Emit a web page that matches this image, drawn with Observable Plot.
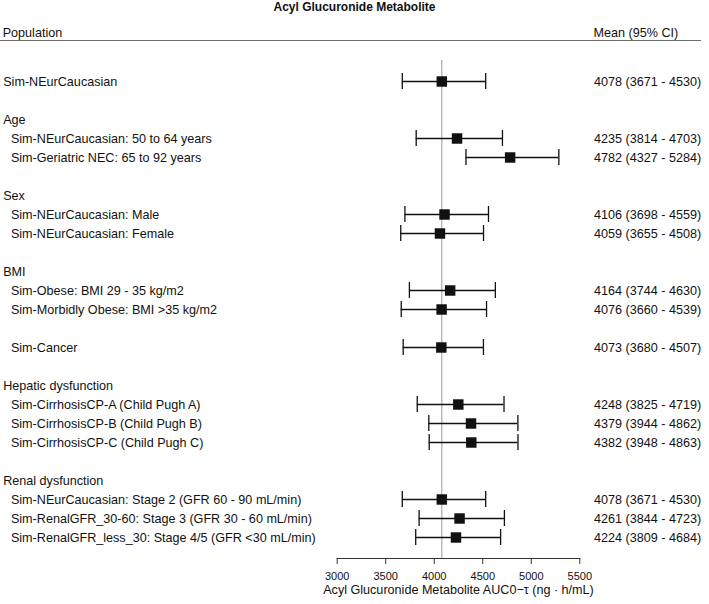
<!DOCTYPE html>
<html>
<head>
<meta charset="utf-8">
<script src="https://cdn.jsdelivr.net/npm/d3@7"></script>
<script src="https://cdn.jsdelivr.net/npm/@observablehq/plot@0.6"></script>
<style>
  body { margin: 0; background: #fff; font-family: "Liberation Sans", Arial, sans-serif; color: #111; }
  #wrap { width: 709px; }
  #head { position: relative; width: 709px; height: 44px; }
  #title { position: absolute; left: 0; top: 0; width: 709px; text-align: center; font-weight: bold; font-size: 12px; line-height: 14px; }
  .col { position: absolute; top: 25.5px; font-size: 12.6px; line-height: 15px; white-space: nowrap; }
  #sep { position: absolute; left: 0; top: 40px; width: 701px; height: 1.2px; background: #6e6e6e; }
  svg { display: block; }
</style>
</head>
<body>
<div id="wrap">
  <div id="head">
    <div id="title"></div>
    <div class="col" id="colLeft" style="left:2.7px"></div>
    <div class="col" id="colRight" style="left:593.5px"></div>
    <div id="sep"></div>
  </div>
  <div id="chart"></div>
</div>
<script>
const chartTitle = "Acyl Glucuronide Metabolite";
const columnHeaders = ["Population", "Mean (95% CI)"];
const sectionTitles = ["", "Age", "Sex", "BMI", "", "Hepatic dysfunction", "Renal dysfunction"];
const populations = [
  "Sim-NEurCaucasian",
  "Sim-NEurCaucasian: 50 to 64 years",
  "Sim-Geriatric NEC: 65 to 92 years",
  "Sim-NEurCaucasian: Male",
  "Sim-NEurCaucasian: Female",
  "Sim-Obese: BMI 29 - 35 kg/m2",
  "Sim-Morbidly Obese: BMI >35 kg/m2",
  "Sim-Cancer",
  "Sim-CirrhosisCP-A (Child Pugh A)",
  "Sim-CirrhosisCP-B (Child Pugh B)",
  "Sim-CirrhosisCP-C (Child Pugh C)",
  "Sim-NEurCaucasian: Stage 2 (GFR 60 - 90 mL/min)",
  "Sim-RenalGFR_30-60: Stage 3 (GFR 30 - 60 mL/min)",
  "Sim-RenalGFR_less_30: Stage 4/5 (GFR <30 mL/min)"
];
const populationSection = [0, 1, 1, 2, 2, 3, 3, 4, 5, 5, 5, 6, 6, 6];
const means = [4078, 4235, 4782, 4106, 4059, 4164, 4076, 4073, 4248, 4379, 4382, 4078, 4261, 4224];
const lower = [3671, 3814, 4327, 3698, 3655, 3744, 3660, 3680, 3825, 3944, 3948, 3671, 3844, 3809];
const upper = [4530, 4703, 5284, 4559, 4508, 4630, 4539, 4507, 4719, 4862, 4863, 4530, 4723, 4684];
const referenceMean = means[0];
const xTicks = [3000, 3500, 4000, 4500, 5000, 5500];
const axisTitleParts = ["Acyl Glucuronide Metabolite AUC", "0\u2212\u03c4", " (ng \u00b7 h/mL)"];

document.getElementById("title").textContent = chartTitle;
document.getElementById("colLeft").textContent = columnHeaders[0];
document.getElementById("colRight").textContent = columnHeaders[1];

// Build the row layout: blank gap rows, section headers, population rows
const rows = [];
sectionTitles.forEach((t, s) => {
  if (s > 0) rows.push({id: "gap" + s});
  if (t) rows.push({id: "head" + s, label: t, indent: false});
  populations.forEach((p, i) => {
    if (populationSection[i] === s) {
      rows.push({id: "pop" + i, label: p, indent: s !== 0, mean: means[i], lo: lower[i], hi: upper[i]});
    }
  });
});
const est = rows.filter(r => r.mean != null);

const ink = "#111";
const chart = Plot.plot({
  width: 709,
  height: 560,
  marginLeft: 336.7,
  marginRight: 129.7,
  marginTop: 16,
  marginBottom: 46,
  style: {fontFamily: '"Liberation Sans", Arial, sans-serif', fontSize: "12.6px", color: ink, background: "white"},
  x: {domain: [xTicks[0], xTicks[xTicks.length - 1]]},
  y: {domain: rows.map(r => r.id), range: [17.08, 512.92], paddingInner: 0.15, paddingOuter: 0.075, axis: null},
  marks: [
    Plot.ruleX([referenceMean], {stroke: "#9a9a9a", strokeWidth: 1}),
    Plot.frame({anchor: "bottom", stroke: "#333"}),
    Plot.axisX({ticks: xTicks, tickFormat: d => String(d), tickSize: 6, tickPadding: 8, fontSize: 11, label: null, stroke: "#333"}),
    Plot.ruleY(est, {y: "id", x1: "lo", x2: "hi", stroke: ink, strokeWidth: 1.3}),
    Plot.tickX(est, {y: "id", x: "lo", stroke: ink, strokeWidth: 1.3}),
    Plot.tickX(est, {y: "id", x: "hi", stroke: ink, strokeWidth: 1.3}),
    Plot.dot(est, {x: "mean", y: "id", symbol: "square", fill: ink, stroke: "none", r: 5.9}),
    Plot.text(rows.filter(r => r.label && !r.indent), {y: "id", text: "label", frameAnchor: "left", textAnchor: "start", dx: -334, fill: ink}),
    Plot.text(rows.filter(r => r.label && r.indent), {y: "id", text: "label", frameAnchor: "left", textAnchor: "start", dx: -326.3, fill: ink}),
    Plot.text(est, {y: "id", text: d => `${d.mean} (${d.lo} - ${d.hi})`, frameAnchor: "right", textAnchor: "start", dx: 14.2, fill: ink}),
    Plot.text([axisTitleParts.join("")], {frameAnchor: "bottom", lineAnchor: "middle", dy: 31.3, fill: ink, ariaLabel: "axis-title"})
  ]
});

// Subscript in axis title
const t = d3.select(chart).select('g[aria-label="axis-title"] text');
t.text(null);
t.append("tspan").text(axisTitleParts[0]);
t.append("tspan").attr("font-size", "9px").attr("dy", "3").text(axisTitleParts[1]);
t.append("tspan").attr("dy", "-3").text(axisTitleParts[2]);

document.getElementById("chart").appendChild(chart);
</script>
</body>
</html>
